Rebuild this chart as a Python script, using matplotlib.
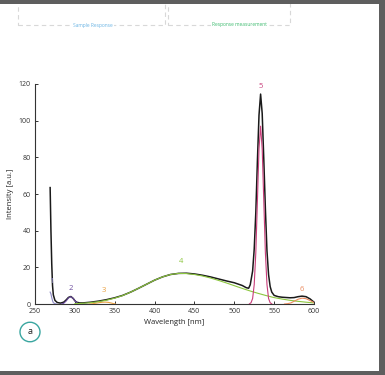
import matplotlib
matplotlib.use("Agg")
import matplotlib.pyplot as plt
from matplotlib.patches import Circle, Rectangle

plt.rcParams["font.family"] = ["Open Sans", "DejaVu Sans"]

# measured total spectrum
wl_total = [269, 270, 271, 272, 273, 275, 278, 282, 286, 289, 292, 295, 298, 300, 302,
            306, 310, 320, 330, 340, 350, 360, 370, 380, 390, 400, 410, 420, 430,
            440, 450, 460, 470, 480, 490, 500, 510, 515, 518, 520, 523, 525, 527,
            529, 531, 533, 535, 537, 539, 541, 543, 545, 547, 550, 555, 560, 570,
            575, 580, 585, 590, 595, 600]
int_total = [63.5, 40, 22, 10, 5, 2, 0.8, 0.5, 1.0, 2.2, 3.6, 4.1, 3.0, 1.8, 1.0,
             0.6, 0.6, 1.0, 1.6, 2.4, 3.4, 4.7, 6.5, 8.6, 10.8, 13.0, 14.8, 16.1, 16.7,
             16.8, 16.4, 15.7, 14.8, 13.7, 12.6, 11.6, 10.1, 8.9, 8.6, 10.5, 18, 30, 50,
             78, 103, 114.5, 104, 79, 52, 29, 16, 9.5, 6.5, 4.7, 4.0, 3.7, 3.4,
             3.5, 4.0, 4.3, 4.0, 2.8, 1.0]

# fitted components
wl_c1 = [269, 270, 271, 272, 273, 275, 277]
int_c1 = [6.5, 5.5, 3.5, 1.8, 0.7, 0.2, 0.0]

wl_c2 = [283, 286, 289, 292, 295, 298, 301, 304, 307]
int_c2 = [0.0, 0.4, 1.6, 3.3, 4.0, 3.0, 1.2, 0.3, 0.0]

wl_c3 = [318, 322, 326, 330, 334, 338, 342, 346, 349, 351]
int_c3 = [0.0, 0.15, 0.4, 0.7, 0.95, 1.05, 0.9, 0.5, 0.15, 0.0]

wl_c4 = [300, 310, 320, 330, 340, 350, 360, 370, 380, 390, 400, 410, 420, 430,
         440, 450, 460, 470, 480, 490, 500, 510, 520, 530, 540, 550, 560, 570,
         580, 590, 600]
int_c4 = [0.2, 0.4, 0.75, 1.3, 2.1, 3.2, 4.6, 6.5, 8.6, 10.8, 13.0, 14.8, 16.1, 16.7,
          16.6, 16.1, 15.3, 14.2, 12.9, 11.5, 10.0, 8.5, 7.1, 5.8, 4.6, 3.5, 2.7, 2.0,
          1.45, 1.0, 0.6]

wl_c5 = [519, 521, 523, 525, 527, 529, 531, 533, 535, 537, 539, 541, 543, 545, 547]
int_c5 = [0.1, 0.7, 3.0, 10.6, 28, 56, 84.5, 97, 84.5, 56, 28, 10.6, 3.0, 0.7, 0.1]

wl_c6 = [563, 567, 571, 575, 580, 585, 590, 595, 600]
int_c6 = [0.0, 0.2, 0.6, 1.5, 2.6, 3.2, 2.9, 1.9, 0.8]

labels = ["1", "2", "3", "4", "5", "6"]
label_x = [270.5, 295, 336, 433, 533, 584]
label_y = [12.5, 8.5, 7.5, 23, 118.5, 8]
colors = ["#8c88c4", "#6a4a9c", "#eaa040", "#8cc63f", "#c83e7a", "#ea8a5e"]

fig = plt.figure(figsize=(3.85, 3.75), dpi=100)
ax = fig.add_axes([0.0909, 0.1893, 0.7247, 0.5867])

components = [(wl_c1, int_c1), (wl_c2, int_c2), (wl_c3, int_c3),
              (wl_c4, int_c4), (wl_c5, int_c5), (wl_c6, int_c6)]
ax.plot(wl_total, int_total, color="#1a1a1a", lw=1.1, zorder=3)
for (w, v), c in zip(components, colors):
    ax.plot(w, v, color=c, lw=0.8, zorder=4)
for t, x, y, c in zip(labels, label_x, label_y, colors):
    ax.text(x, y, t, color=c, fontsize=5.5, ha="center", va="center")

ax.set_xlim(250, 600)
ax.set_ylim(0, 120)
ax.set_xticks([250, 300, 350, 400, 450, 500, 550, 600])
ax.set_yticks([0, 20, 40, 60, 80, 100, 120])
for s in ["top", "right"]:
    ax.spines[s].set_visible(False)
for s in ["left", "bottom"]:
    ax.spines[s].set_color("#333333")
    ax.spines[s].set_linewidth(0.8)
ax.tick_params(direction="in", length=2.5, width=0.7, labelsize=5,
               colors="#333333", pad=3)
ax.set_xlabel("Wavelength [nm]", fontsize=5.5, color="#222222", labelpad=3)
ax.set_ylabel("Intensity [a.u.]", fontsize=5.5, color="#222222", labelpad=3)

# panel marker
fig.patches.append(Circle((30 / 385, 1 - 332 / 375), 10 / 385, transform=fig.transFigure,
                          fill=False, edgecolor="#3aa6a0", lw=1.0))
fig.text(30 / 385, 1 - 332 / 375, "a", fontsize=6.5, ha="center", va="center",
         color="#222222")

# dashed header boxes
for x0, x1 in [(18, 165), (168, 290)]:
    fig.patches.append(Rectangle((x0 / 385, 1 - 25 / 375), (x1 - x0) / 385, 30 / 375,
                                 transform=fig.transFigure, fill=False,
                                 edgecolor="#d8d8d8", lw=0.8, ls=(0, (4, 3))))
fig.text(93 / 385, 1 - 25 / 375, "Sample Response", fontsize=3.5, color="#6ab4e4",
         ha="center", va="center",
         bbox=dict(facecolor="white", edgecolor="none", pad=0.5))
fig.text(239 / 385, 1 - 24.5 / 375, "Response measurement", fontsize=3.5,
         color="#3cba6e", ha="center", va="center",
         bbox=dict(facecolor="white", edgecolor="none", pad=0.5))

# outer frame
fig.patches.append(Rectangle((0, 1 - 4 / 375), 1, 4 / 375, transform=fig.transFigure,
                             facecolor="#5e5e5e", edgecolor="none"))
fig.patches.append(Rectangle((379 / 385, 0), 6 / 385, 1, transform=fig.transFigure,
                             facecolor="#5e5e5e", edgecolor="none"))
fig.patches.append(Rectangle((0, 0), 1, 4 / 375, transform=fig.transFigure,
                             facecolor="#5e5e5e", edgecolor="none"))

fig.savefig("out.png", dpi=100)
